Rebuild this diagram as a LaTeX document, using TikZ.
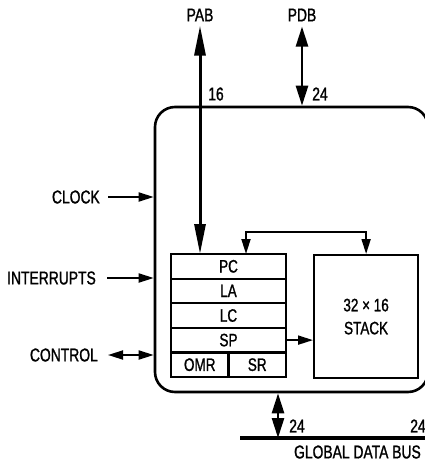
\documentclass[tikz,border=0pt]{standalone}
\usepackage{fontspec}
\setmainfont[FakeStretch=0.75,FakeBold=1.2]{Liberation Sans}
\usetikzlibrary{arrows.meta}
\usetikzlibrary{positioning}

\tikzset{
  lbl/.style={font=\fontsize{18.5}{23}\selectfont,inner sep=0pt},
  reg/.style={draw,line width=2.2pt,minimum width=115pt,minimum height=24.6pt,
    inner sep=0pt,outer sep=0pt,font=\fontsize{18}{23}\selectfont},
  sig/.style={line width=1.8pt,-{Triangle[length=15pt,width=9pt]}},
  bisig/.style={line width=1.8pt,{Triangle[length=15pt,width=9pt]}-{Triangle[length=15pt,width=9pt]}},
  wide/.style={line width=2.6pt,{Triangle[length=20pt,width=12pt]}-{Triangle[length=20pt,width=12pt]}}
}

\begin{document}
\begin{tikzpicture}[x=1pt,y=-1pt]
\useasboundingbox (0,0) rectangle (425,463);
% outer block (right edge runs just past the page)
\node[draw,line width=2.6pt,rounded corners=20pt,minimum width=273pt,minimum height=285pt,inner sep=0pt] (chip) at (291.5,249.5) {};
% registers
\node[reg] (pc) at (228.5,266.3) {PC};
\node[reg,below=0pt of pc] (la) {LA};
\node[reg,below=0pt of la] (lc) {LC};
\node[reg,below=0pt of lc] (sp) {SP};
\node[reg,minimum width=57.5pt,anchor=north west] (omr) at (sp.south west) {OMR};
\node[reg,minimum width=57.5pt,anchor=north east] (sr) at (sp.south east) {SR};
\node[draw,line width=2.2pt,minimum width=104pt,minimum height=123pt,inner sep=0pt,align=center,
  font=\fontsize{18}{23}\selectfont,anchor=north west] (stack) at (313,254) {32 × 16\\STACK};
% buses on top
\node[lbl] (pab) at (200,15) {PAB};
\node[lbl] (pdb) at (302,15) {PDB};
\draw[line width=3pt,{Triangle[length=30pt,width=11pt]}-{Triangle[length=30pt,width=11pt]}]
  ([yshift=-4pt]pab.south) -- (pab.south |- pc.north);
\draw[wide] ([yshift=-5pt]pdb.south) -- (pdb.south |- chip.north);
\node[lbl] (n16) at (216,94) {16};
\node[lbl] (n24) at (320,94) {24};
% stack link
\coordinate (lk) at (246,232);
\draw[bisig] (lk |- pc.north) -- (lk) -| (stack.north);
\draw[sig] (sp.east) -- (sp.east -| stack.west);
% inputs
\node[lbl,anchor=east] (clock) at (100,197) {CLOCK};
\node[lbl,anchor=east] (intr) at (96,278) {INTERRUPTS};
\node[lbl,anchor=east] (ctrl) at (98,355) {CONTROL};
\draw[sig] ([xshift=8pt]clock.east) -- (clock.east -| chip.west);
\draw[sig] ([xshift=11pt]intr.east) -- (intr.east -| chip.west);
\draw[bisig] ([xshift=10pt]ctrl.east) -- (ctrl.east -| chip.west);
% global data bus
\coordinate (gd) at (278,438);
\coordinate (gdl) at (240,438);
\coordinate (gdr) at (425,438);
\draw[line width=3.5pt] (gdl) -- (gdr);
\draw[wide] (gd |- chip.south) -- (gd);
\node[lbl] (b24) at (297,426) {24};
\node[lbl] (r24) at (418,426) {24};
\node[lbl,anchor=east] (gdb) at (421,452) {GLOBAL DATA BUS};
\end{tikzpicture}
\end{document}
